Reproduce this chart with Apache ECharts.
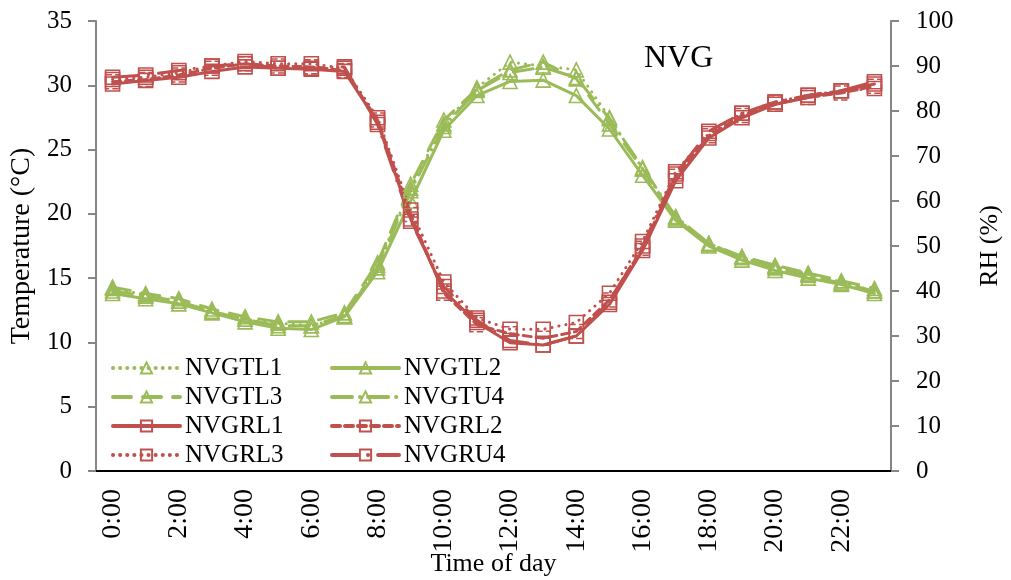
<!DOCTYPE html>
<html>
<head>
<meta charset="utf-8">
<title>NVG</title>
<script src="https://cdn.jsdelivr.net/npm/echarts@6/dist/echarts.min.js"></script>
<style>
  html, body { margin: 0; padding: 0; background: #fff; }
  #chart { width: 1011px; height: 580px; }
</style>
</head>
<body>
<div id="chart"></div>
<script>
// Hourly categories (one point per hour of day)
const hours = ['0:00','1:00','2:00','3:00','4:00','5:00','6:00','7:00','8:00','9:00','10:00','11:00',
               '12:00','13:00','14:00','15:00','16:00','17:00','18:00','19:00','20:00','21:00','22:00','23:00'];

// Temperature (°C), left axis
const NVGTL1 = [14.2, 13.7, 13.2, 12.4, 11.8, 11.5, 11.3, 12.0, 16.0, 22.0, 27.0, 29.8, 31.8, 31.5, 31.2, 27.5, 23.5, 19.7, 17.6, 16.6, 15.9, 15.3, 14.7, 14.0];
const NVGTL2 = [13.8, 13.4, 13.0, 12.3, 11.6, 11.1, 11.0, 12.0, 15.5, 21.0, 26.5, 29.2, 30.3, 30.4, 29.2, 26.6, 23.0, 19.5, 17.5, 16.4, 15.6, 15.0, 14.5, 13.8];
const NVGTL3 = [14.3, 13.8, 13.4, 12.6, 12.0, 11.6, 11.6, 12.3, 16.2, 22.3, 27.3, 29.7, 31.2, 31.8, 30.5, 27.0, 23.5, 19.6, 17.7, 16.7, 16.0, 15.4, 14.8, 14.2];
const NVGTU4 = [14.0, 13.6, 13.2, 12.4, 11.8, 11.3, 11.3, 12.1, 15.8, 21.8, 26.8, 29.6, 31.0, 31.4, 30.6, 27.4, 23.6, 19.8, 17.7, 16.6, 15.8, 15.2, 14.6, 14.0];

// Relative humidity (%), right axis
const NVGRL1 = [86.0, 86.8, 87.5, 88.8, 89.8, 89.5, 89.3, 88.8, 77.5, 56.0, 40.0, 33.0, 28.5, 28.0, 30.0, 37.0, 49.0, 64.5, 74.0, 78.5, 81.5, 83.0, 84.5, 86.0];
const NVGRL2 = [86.5, 87.0, 88.0, 89.5, 90.5, 90.0, 89.8, 89.0, 78.0, 57.0, 39.5, 32.5, 30.5, 29.5, 31.0, 38.0, 49.5, 65.5, 74.5, 79.0, 81.5, 83.0, 84.0, 85.5];
const NVGRL3 = [87.0, 87.5, 88.5, 90.0, 91.0, 90.5, 90.5, 89.5, 78.5, 58.0, 42.0, 34.0, 31.5, 31.5, 33.0, 39.5, 51.0, 66.5, 75.0, 79.5, 82.0, 83.5, 84.5, 85.0];
const NVGRU4 = [87.5, 88.0, 89.0, 90.0, 90.5, 89.5, 89.5, 89.8, 77.0, 55.5, 41.0, 33.5, 29.0, 28.0, 30.0, 37.5, 50.0, 66.0, 75.5, 79.5, 82.0, 83.5, 84.5, 86.5];

const GREEN = '#9BBB59';
const RED = '#C0504D';
const AXIS_GRAY = '#868686';
const FONT = '"Liberation Serif", "Times New Roman", serif';

function lineSeries(name, data, color, dash, symbol, yIndex, borderType) {
  return {
    name: name,
    type: 'line',
    yAxisIndex: yIndex,
    data: data,
    symbol: symbol,
    symbolSize: 14,
    showAllSymbol: true,
    lineStyle: { color: color, width: 3, type: dash, cap: 'round' },
    itemStyle: { color: 'rgba(255,255,255,0)', borderColor: color, borderWidth: 1.6, borderType: borderType || 'solid' },
    emphasis: { disabled: true },
    animation: false
  };
}

const legendCommon = {
  orient: 'vertical', top: 350,
  itemWidth: 67, itemHeight: 14, itemGap: 3,
  lineStyle: { width: 4 },
  textStyle: { fontFamily: FONT, fontSize: 25, color: '#000', lineHeight: 26 }
};

const chart = echarts.init(document.getElementById('chart'), null, { renderer: 'canvas' });

chart.setOption({
  backgroundColor: '#fff',
  animation: false,
  textStyle: { fontFamily: FONT, color: '#000' },
  title: {
    text: 'NVG',
    left: 639, top: 38,
    textStyle: { fontFamily: FONT, fontSize: 32, fontWeight: 'normal', color: '#000' }
  },
  grid: { left: 96, right: 120, top: 21, bottom: 109, containLabel: false, outerBoundsMode: 'none' },
  legend: [
    Object.assign({ data: ['NVGTL1', 'NVGTL3', 'NVGRL1', 'NVGRL3'], left: 106 }, legendCommon),
    Object.assign({ data: ['NVGTL2', 'NVGTU4', 'NVGRL2', 'NVGRU4'], left: 325 }, legendCommon)
  ],
  xAxis: [
    {
      type: 'category',
      data: hours,
      boundaryGap: true,
      name: 'Time of day',
      nameLocation: 'middle',
      nameGap: 80,
      nameMoveOverlap: false,
      nameTextStyle: { fontFamily: FONT, fontSize: 26, color: '#000' },
      axisLine: { lineStyle: { color: AXIS_GRAY, width: 2 } },
      axisTick: { interval: 1, length: 8, lineStyle: { color: AXIS_GRAY, width: 2 } },
      axisLabel: { interval: 1, rotate: 90, fontFamily: FONT, fontSize: 28, color: '#000', margin: 18 },
      splitLine: { show: false }
    },
    {
      type: 'category',
      data: hours,
      position: 'top',
      axisLine: { lineStyle: { color: '#000', width: 2 } },
      axisTick: { show: false },
      axisLabel: { show: false },
      splitLine: { show: false }
    }
  ],
  yAxis: [
    {
      type: 'value',
      min: 0, max: 35, interval: 5,
      name: 'Temperature (°C)',
      nameLocation: 'middle',
      nameRotate: 90,
      nameGap: 60,
      nameMoveOverlap: false,
      nameTextStyle: { fontFamily: FONT, fontSize: 28, color: '#000' },
      axisLine: { show: true, lineStyle: { color: AXIS_GRAY, width: 2 } },
      axisTick: { show: true, length: 8, lineStyle: { color: AXIS_GRAY, width: 2 } },
      axisLabel: { fontFamily: FONT, fontSize: 25, color: '#000', margin: 24 },
      splitLine: { show: false }
    },
    {
      type: 'value',
      min: 0, max: 100, interval: 10,
      position: 'right',
      name: 'RH (%)',
      nameLocation: 'middle',
      nameRotate: 90,
      nameGap: 86,
      nameMoveOverlap: false,
      nameTextStyle: { fontFamily: FONT, fontSize: 26, color: '#000' },
      axisLine: { show: true, lineStyle: { color: AXIS_GRAY, width: 2 } },
      axisTick: { show: true, length: 8, lineStyle: { color: AXIS_GRAY, width: 2 } },
      axisLabel: { fontFamily: FONT, fontSize: 25, color: '#000', margin: 25 },
      splitLine: { show: false }
    }
  ],
  series: [
    lineSeries('NVGTL1', NVGTL1, GREEN, [0.1, 7], 'triangle', 0),
    lineSeries('NVGTL2', NVGTL2, GREEN, 'solid', 'triangle', 0),
    lineSeries('NVGTL3', NVGTL3, GREEN, [18, 12], 'triangle', 0),
    lineSeries('NVGTU4', NVGTU4, GREEN, [20, 8, 0.1, 8], 'triangle', 0),
    lineSeries('NVGRL1', NVGRL1, RED, 'solid', 'rect', 1),
    lineSeries('NVGRL2', NVGRL2, RED, [8, 5], 'rect', 1, 'dashed'),
    lineSeries('NVGRL3', NVGRL3, RED, [0.1, 7], 'rect', 1),
    lineSeries('NVGRU4', NVGRU4, RED, [26, 10, 0.1, 10], 'rect', 1)
  ]
});
</script>
</body>
</html>
